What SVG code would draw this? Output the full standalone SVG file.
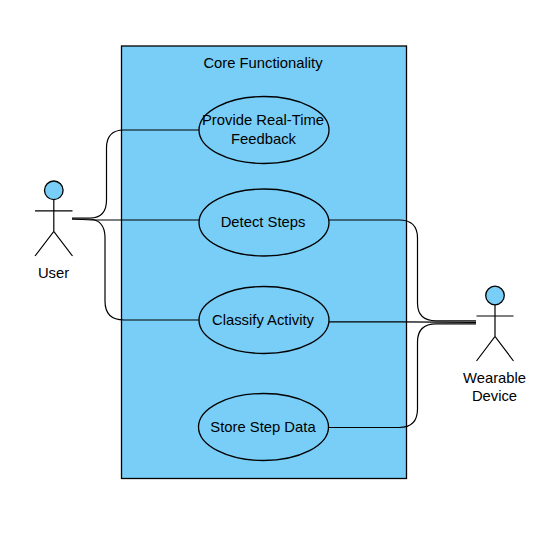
<svg xmlns="http://www.w3.org/2000/svg" width="554" height="550" viewBox="0 0 554 550">
<style>
text{font-family:"Liberation Sans",Arial,sans-serif;font-size:14.800px;fill:#000;text-anchor:middle}
.s{fill:#79cef7;stroke:#000;stroke-width:1.300}
.l{fill:none;stroke:#000;stroke-width:1.200}
</style>
<rect width="554" height="550" fill="#fff"/>
<g id="system"><rect class="s" x="121.500" y="46" width="285" height="432.500"/><text x="263" y="68">Core Functionality</text></g>
<g id="connectors" class="l">
<path d="M72 218H90Q106.500 218 106.500 200V148Q106.500 130 124 130H199"/>
<path d="M72 219L92 220H199"/>
<path d="M72 219H88Q105 219 105 238V301Q105 320 124 320H199"/>
<path d="M329 220H399Q417.500 220 417.500 238V303Q417.500 320.800 436 320.800H476"/>
<path d="M329 321.800H400L476 322.300"/>
<path d="M329 427.500H399Q417.500 427.500 417.500 409V342Q417.500 323.800 436 323.800H476"/>
</g>
<g id="uc1"><ellipse class="s" cx="264" cy="130" rx="65" ry="33.500"/><text x="263" y="125">Provide Real-Time</text><text x="263.500" y="143.500">Feedback</text></g>
<g id="uc2"><ellipse class="s" cx="264" cy="222.500" rx="65" ry="33.500"/><text x="263" y="227">Detect Steps</text></g>
<g id="uc3"><ellipse class="s" cx="264" cy="320" rx="65" ry="33.500"/><text x="263" y="325">Classify Activity</text></g>
<g id="uc4"><ellipse class="s" cx="263.500" cy="427" rx="65" ry="33.500"/><text x="263" y="432">Store Step Data</text></g>
<g id="user"><circle class="s" cx="53.800" cy="190.300" r="9.300"/><path class="l" d="M53.800 199.600V231.500M35 210.800H72.500M35 256L53.800 231.500L72.500 256"/><text x="53.500" y="277.500">User</text></g>
<g id="device"><circle class="s" cx="495" cy="295.500" r="9.300"/><path class="l" d="M495 304.800V336.500M476.500 316H513.500M476.500 361L495 336.500L513.500 361"/><text x="494.500" y="383">Wearable</text><text x="494.500" y="401">Device</text></g>
</svg>
